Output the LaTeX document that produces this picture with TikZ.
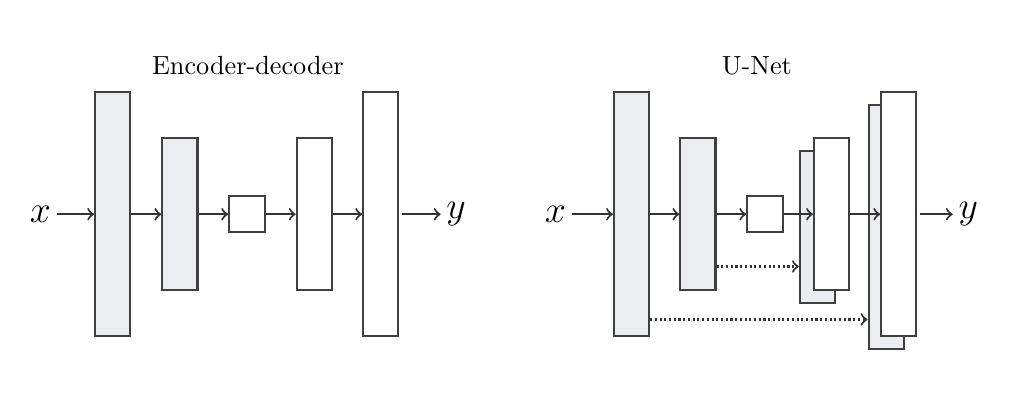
\documentclass[tikz,border=0pt]{standalone}
\definecolor{encgray}{RGB}{236,237,240}
\tikzset{
    layer/.style={draw=black!75, line width=0.8pt, minimum width=0.47cm, inner sep=0pt},
    tall/.style={layer, minimum height=3.27cm},
    mid/.style={layer, minimum height=2.04cm},
    code/.style={layer, minimum width=0.48cm, minimum height=0.48cm},
    enc/.style={fill=encgray},
    dec/.style={fill=white},
    flow/.style={->, black!80, line width=0.8pt},
    skip/.style={->, black!80, line width=0.8pt, densely dotted},
}
\begin{document}
\begin{tikzpicture}
        \useasboundingbox (0,0) rectangle (13.61,5.48);
        % encoder-decoder
        \node at (3.32,4.60) {Encoder-decoder};
        \node[inner sep=2pt] (x1) at (0.54,2.61) {\Large $x$};
        \node[tall,enc] (a1) at (1.51,2.61) {};
        \node[mid,enc] (a2) at (2.41,2.61) {};
        \node[code] (a3) at (3.31,2.61) {};
        \node[mid,dec] (a4) at (4.21,2.61) {};
        \node[tall,dec] (a5) at (5.10,2.61) {};
        \node[inner sep=2pt] (y1) at (6.11,2.61) {\Large $y$};
        \draw[flow] (x1) -- (a1);
        \draw[flow] (a1) -- (a2);
        \draw[flow] (a2) -- (a3);
        \draw[flow] (a3) -- (a4);
        \draw[flow] (a4) -- (a5);
        \draw[flow] ([xshift=0.03cm]a5.east) -- (y1);
        % u-net
        \node at (10.14,4.60) {U-Net};
        \node[inner sep=2pt] (x2) at (7.44,2.61) {\Large $x$};
        \node[tall,enc] (b1) at (8.46,2.61) {};
        \node[mid,enc] (b2) at (9.35,2.61) {};
        \node[code] (b3) at (10.25,2.61) {};
        \node[mid,enc] (c4) at (10.95,2.44) {};
        \node[mid,dec] (b4) at (11.14,2.61) {};
        \node[tall,enc] (c5) at (11.87,2.44) {};
        \node[tall,dec] (b5) at (12.04,2.61) {};
        \node[inner sep=2pt] (y2) at (12.97,2.61) {\Large $y$};
        \draw[flow] (x2) -- (b1);
        \draw[flow] (b1) -- (b2);
        \draw[flow] (b2) -- (b3);
        \draw[flow] (b3) -- (b4);
        \draw[flow] (b4) -- (b5);
        \draw[flow] ([xshift=0.03cm]b5.east) -- (y2);
        \draw[skip] ([yshift=-0.70cm]b2.east) -- ([yshift=-0.70cm]b2.east -| c4.west);
        \draw[skip] ([yshift=-1.41cm]b1.east) -- ([yshift=-1.41cm]b1.east -| c5.west);
    \end{tikzpicture}
\end{document}
